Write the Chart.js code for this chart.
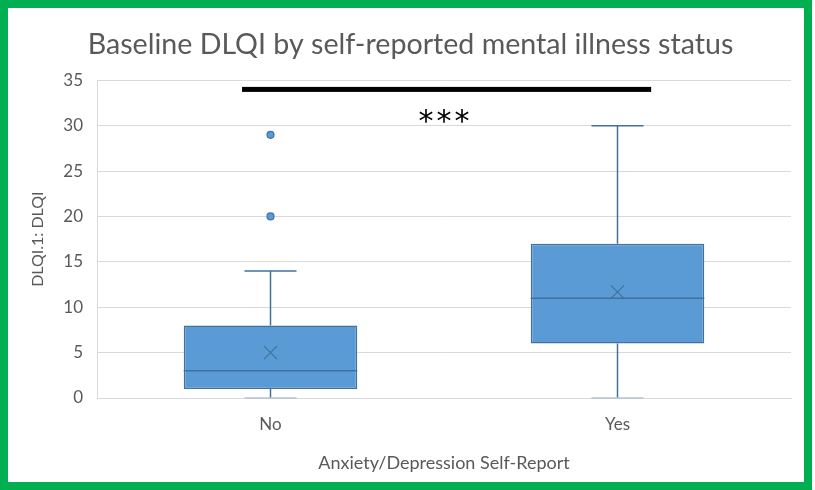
<!DOCTYPE html>
<html>
<head>
<meta charset="utf-8">
<script src="https://cdn.jsdelivr.net/npm/chart.js@4"></script>
<style>
  html, body { margin:0; padding:0; background:#fff; }
  #wrap { position:relative; width:815px; height:490px; }
  #frame { position:absolute; left:0; top:0; width:812px; height:490px; box-sizing:border-box; border:8px solid #00b050; pointer-events:none; }
</style>
</head>
<body>
<div id="wrap">
  <canvas id="c" width="815" height="490"></canvas>
  <div id="frame"></div>
</div>
<script>
  // Box plot data
  const categories = ['No', 'Yes'];
  const q1 = [1, 6];
  const q3 = [8, 17];
  const medians = [3, 11];
  const means = [5, 11.7];
  const whiskerLow = [0, 0];
  const whiskerHigh = [14, 30];
  const outliers = [[20, 29], []];
  const yTicks = [0, 5, 10, 15, 20, 25, 30, 35];

  // significance bar between the groups
  const sigLevel = 34;
  const sigSpan = [-0.082, 1.097];   // in category index units
  const sigLabel = '***';
  const sigLabelAt = [0.5, 31.1];

  const FILL = '#5b9bd5', EDGE = '#41719c', TXT = '#595959';

  const boxExtras = {
    id: 'boxExtras',
    afterLayout(chart){
      // title in the original sits a bit right of the canvas centre
      if (chart.titleBlock) { chart.titleBlock.left += 11; chart.titleBlock.right += 11; }
    },
    afterDatasetsDraw(chart){
      const ctx = chart.ctx, x = chart.scales.x, y = chart.scales.y;
      const meta = chart.getDatasetMeta(0);
      ctx.save();
      categories.forEach((c, i) => {
        const bar = meta.data[i];
        const cx = bar.x, half = bar.width / 2, cap = bar.width * 0.15;
        ctx.strokeStyle = EDGE;
        ctx.lineWidth = 1.5;
        // whiskers
        ctx.beginPath();
        ctx.moveTo(cx, y.getPixelForValue(q3[i])); ctx.lineTo(cx, y.getPixelForValue(whiskerHigh[i]));
        ctx.moveTo(cx, y.getPixelForValue(q1[i])); ctx.lineTo(cx, y.getPixelForValue(whiskerLow[i]));
        ctx.moveTo(cx - cap, y.getPixelForValue(whiskerHigh[i])); ctx.lineTo(cx + cap, y.getPixelForValue(whiskerHigh[i]));
        ctx.stroke();
        // low cap sits on the axis line, looks greyish there
        ctx.strokeStyle = '#b4c3d3';
        ctx.beginPath();
        ctx.moveTo(cx - cap, y.getPixelForValue(whiskerLow[i])); ctx.lineTo(cx + cap, y.getPixelForValue(whiskerLow[i]));
        ctx.stroke();
        ctx.strokeStyle = EDGE;
        // median
        ctx.beginPath();
        const my = y.getPixelForValue(medians[i]);
        ctx.moveTo(cx - half, my); ctx.lineTo(cx + half, my);
        ctx.stroke();
        // mean marker
        const ay = y.getPixelForValue(means[i]), s = 6.5;
        ctx.lineWidth = 1.2;
        ctx.beginPath();
        ctx.moveTo(cx - s, ay - s); ctx.lineTo(cx + s, ay + s);
        ctx.moveTo(cx + s, ay - s); ctx.lineTo(cx - s, ay + s);
        ctx.stroke();
        // outliers
        outliers[i].forEach(v => {
          ctx.beginPath();
          ctx.arc(cx, y.getPixelForValue(v), 3.5, 0, Math.PI * 2);
          ctx.fillStyle = FILL; ctx.fill();
          ctx.lineWidth = 1.2; ctx.strokeStyle = EDGE; ctx.stroke();
        });
      });
      // significance bar
      const step = x.getPixelForValue(1) - x.getPixelForValue(0);
      const x0 = x.getPixelForValue(0) + sigSpan[0] * step;
      const x1 = x.getPixelForValue(0) + sigSpan[1] * step;
      ctx.fillStyle = '#000';
      const sy = y.getPixelForValue(sigLevel);
      ctx.fillRect(x0, sy - 2.5, x1 - x0, 5);
      ctx.font = '30px "DejaVu Sans"';
      ctx.letterSpacing = '3px';
      ctx.textAlign = 'center';
      ctx.textBaseline = 'middle';
      ctx.fillText(sigLabel, x.getPixelForValue(0) + sigLabelAt[0] * step + 1.5, y.getPixelForValue(sigLabelAt[1]) + 7);
      ctx.restore();
    }
  };

  new Chart(document.getElementById('c'), {
    type: 'bar',
    data: {
      labels: categories,
      datasets: [{
        data: categories.map((c, i) => [q1[i], q3[i]]),
        backgroundColor: FILL,
        borderColor: EDGE,
        borderWidth: 1.5,
        borderSkipped: false,
        categoryPercentage: 1,
        barPercentage: 0.5
      }]
    },
    options: {
      responsive: false,
      animation: false,
      layout: { padding: { top: 8, left: 8, right: 24, bottom: 8 } },
      plugins: {
        legend: { display: false },
        tooltip: { enabled: false },
        title: {
          display: true,
          text: 'Baseline DLQI by self-reported mental illness status',
          color: TXT,
          font: { family: 'Lato', size: 28.6, weight: 'normal' },
          padding: { top: 20, bottom: 18 }
        }
      },
      scales: {
        x: {
          grid: { display: false, drawTicks: false },
          border: { color: '#d9d9d9' },
          ticks: { color: TXT, font: { family: 'Lato', size: 17 }, padding: 16 },
          title: { display: true, text: 'Anxiety/Depression Self-Report', color: TXT, font: { family: 'Lato', size: 18 }, padding: { top: 10, bottom: 8 } },
          afterFit(s){ s.height = 84; }
        },
        y: {
          min: 0, max: 35,
          afterBuildTicks(s){ s.ticks = yTicks.map(v => ({ value: v })); },
          grid: { color: '#d9d9d9', drawTicks: false },
          border: { color: '#d9d9d9' },
          ticks: { color: TXT, font: { family: 'Lato', size: 17 }, padding: 14 },
          title: { display: true, text: 'DLQI.1: DLQI', color: TXT, font: { family: 'Lato', size: 16 }, padding: { top: 20, bottom: 0 } },
          afterFit(s){ s.width = 89; }
        }
      }
    },
    plugins: [boxExtras]
  });
</script>
</body>
</html>
